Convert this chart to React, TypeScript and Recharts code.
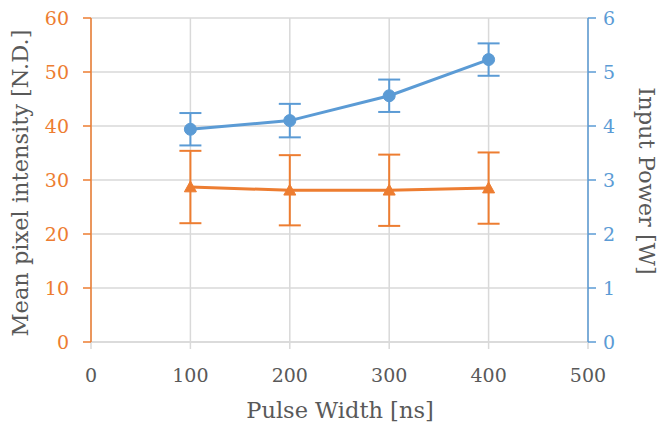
import React from 'react';
import { LineChart, Line, XAxis, YAxis, CartesianGrid, ErrorBar, Label } from 'recharts';

// Values
const pulseWidth = [100, 200, 300, 400];
const intensity = [28.7, 28.1, 28.1, 28.5];
const intensityErr = [6.7, 6.5, 6.6, 6.6];
const power = [3.94, 4.1, 4.56, 5.23];
const powerErr = [0.3, 0.31, 0.3, 0.3];

const xTicks = [0, 100, 200, 300, 400, 500];
const leftTicks = [0, 10, 20, 30, 40, 50, 60];
const rightTicks = [0, 1, 2, 3, 4, 5, 6];

const ORANGE = '#ED7D31';
const BLUE = '#5B9BD5';
const GREY = '#595959';
const GRID = '#D9D9D9';
const FONT = '"DejaVu Serif", serif';

const data = pulseWidth.map((x, i) => ({
  x,
  intensity: intensity[i],
  intensityErr: intensityErr[i],
  power: power[i],
  powerErr: powerErr[i],
}));

// Orange triangle marker
const Triangle = (props: any) => {
  const { cx, cy } = props;
  if (cx == null || cy == null) return null;
  const s = 6;
  return (
    <path
      d={`M${cx},${cy - s} L${cx + s},${cy + s * 0.8} L${cx - s},${cy + s * 0.8} Z`}
      fill={ORANGE}
      stroke={ORANGE}
      strokeWidth={1}
    />
  );
};

export default function App() {
  return (
    <div style={{ position: 'absolute', left: 0, top: 0, background: '#fff' }}>
      <LineChart width={662} height={430} data={data} margin={{ top: 18, right: 34, bottom: 48, left: 31 }}>
        <CartesianGrid stroke={GRID} strokeWidth={1.5} yAxisId="left" />
        <XAxis
          dataKey="x"
          type="number"
          domain={[0, 500]}
          ticks={xTicks}
          height={40}
          stroke={GRID}
          strokeWidth={1.5}
          tickSize={7}
          tickMargin={20}
          tick={{ fill: GREY, fontSize: 19, fontFamily: FONT }}
        >
          <Label
            content={() => (
              <text x={340} y={410} textAnchor="middle" dominantBaseline="central" fill={GREY} fontSize={22.5} fontFamily={FONT}>
                Pulse Width [ns]
              </text>
            )}
          />
        </XAxis>
        <YAxis
          yAxisId="left"
          orientation="left"
          domain={[0, 60]}
          ticks={leftTicks}
          width={60}
          stroke={ORANGE}
          strokeWidth={1.5}
          tickSize={8}
          tickMargin={14}
          tick={{ fill: ORANGE, fontSize: 19, fontFamily: FONT }}
        >
          <Label
            content={() => (
              <text
                x={20}
                y={183}
                transform="rotate(-90 20 183)"
                textAnchor="middle"
                dominantBaseline="central"
                fill={GREY}
                fontSize={22.5}
                fontFamily={FONT}
              >
                Mean pixel intensity [N.D.]
              </text>
            )}
          />
        </YAxis>
        <YAxis
          yAxisId="right"
          orientation="right"
          domain={[0, 6]}
          ticks={rightTicks}
          width={40}
          stroke={BLUE}
          strokeWidth={1.5}
          tickSize={8}
          tickMargin={7}
          tick={{ fill: BLUE, fontSize: 19, fontFamily: FONT }}
        >
          <Label
            content={() => (
              <text
                x={647}
                y={181}
                transform="rotate(90 647 181)"
                textAnchor="middle"
                dominantBaseline="central"
                fill={GREY}
                fontSize={22.5}
                fontFamily={FONT}
              >
                Input Power [W]
              </text>
            )}
          />
        </YAxis>
        <Line
          yAxisId="left"
          dataKey="intensity"
          stroke={ORANGE}
          strokeWidth={3}
          dot={<Triangle />}
          activeDot={false}
          isAnimationActive={false}
        >
          <ErrorBar dataKey="intensityErr" direction="y" width={11} stroke={ORANGE} strokeWidth={2} />
        </Line>
        <Line
          yAxisId="right"
          dataKey="power"
          stroke={BLUE}
          strokeWidth={3}
          dot={{ r: 6, fill: BLUE, stroke: BLUE, strokeWidth: 1 }}
          activeDot={false}
          isAnimationActive={false}
        >
          <ErrorBar dataKey="powerErr" direction="y" width={11} stroke={BLUE} strokeWidth={2} />
        </Line>
      </LineChart>
    </div>
  );
}
